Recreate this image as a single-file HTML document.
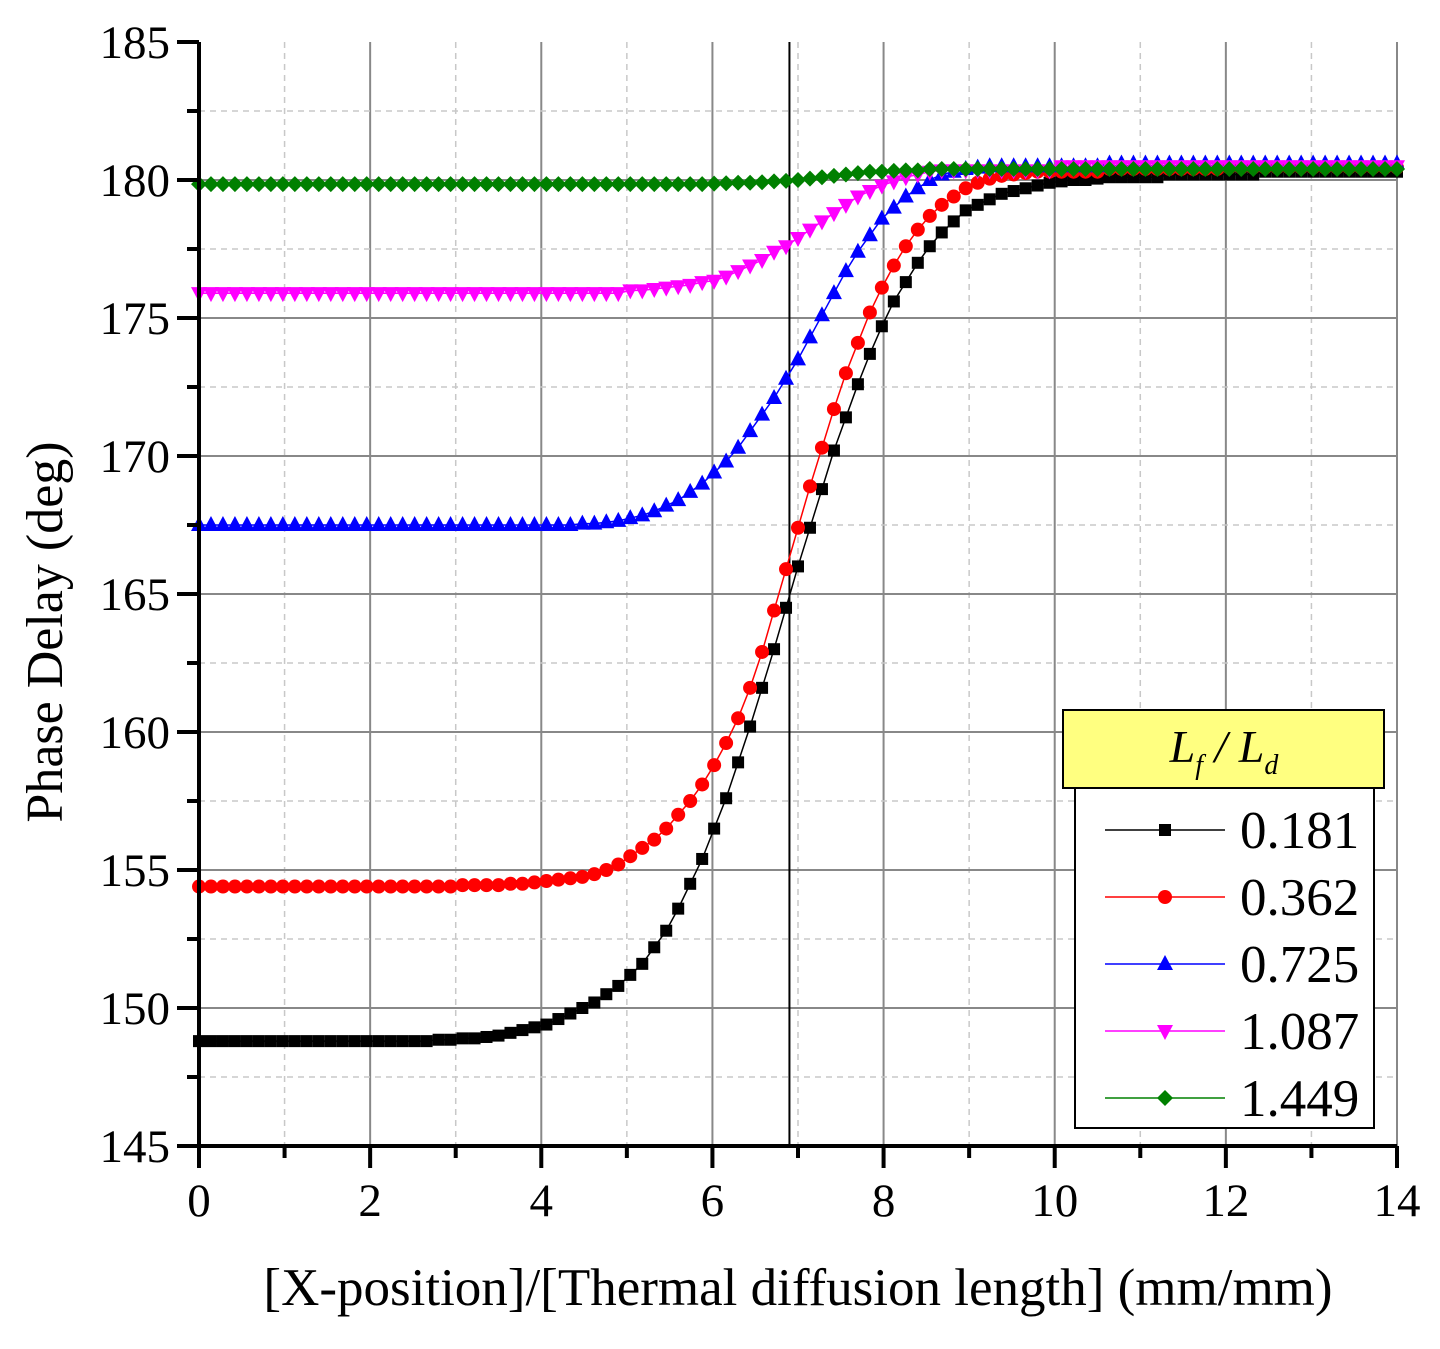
<!DOCTYPE html>
<html><head><meta charset="utf-8"><style>
html,body{margin:0;padding:0;background:#fff;}
svg{display:block;font-family:"Liberation Serif",serif;}
</style></head><body>
<svg id="chart" width="1440" height="1349" viewBox="0 0 1440 1349" xmlns="http://www.w3.org/2000/svg">
<g id="grid"></g>
<g id="series"></g>
<g id="axes"></g>
<text transform="translate(62,632) rotate(-90)" text-anchor="middle" font-size="52">Phase Delay (deg)</text>
<text x="798" y="1305" text-anchor="middle" font-size="53">[X-position]/[Thermal diffusion length] (mm/mm)</text>
<g id="legend"></g>
</svg>
<script>
const labels = ["0.181","0.362","0.725","1.087","1.449"];
const colors = ["#000000","#ff0000","#0000ff","#ff00ff","#008000"];
const markers = ["square","circle","triangle","down","diamond"];
const xTicks = [0,2,4,6,8,10,12,14];
const yTicks = [145,150,155,160,165,170,175,180,185];
const markerX = 6.9;
const s0181 = [148.8,148.8,148.8,148.8,148.8,148.8,148.8,148.8,148.8,148.8,148.8,148.8,148.8,148.8,148.8,148.8,148.8,148.8,
148.8,148.8,148.85,148.85,148.9,148.9,148.95,
149.0,149.1,149.2,149.3,149.4,149.6,149.8,150.0,150.2,150.5,150.8,151.2,151.6,152.2,152.8,153.6,154.5,155.4,156.5,157.6,158.9,160.2,161.6,163.0,164.5,166.0,167.4,168.8,170.2,171.4,172.6,173.7,174.7,175.6,176.3,177.0,177.6,178.1,178.5,178.9,179.1,179.3,179.5,179.6,179.7,179.8,179.9,
179.95,180.0,180.0,180.05,180.1,180.1,180.1,180.1,180.1,
180.2,180.2,180.2,180.2,180.2,180.2,180.2,180.2,
180.3,180.3,180.3,180.3,180.3,180.3,180.3,180.3,180.3,180.3,180.3,180.3];
const s0362 = [154.4,154.4,154.4,154.4,154.4,154.4,154.4,154.4,154.4,154.4,154.4,154.4,154.4,154.4,154.4,154.4,154.4,154.4,154.4,154.4,154.4,154.4,
154.45,154.45,154.45,154.45,154.5,154.5,154.55,154.6,154.65,154.7,154.75,154.85,155.0,155.2,155.5,155.8,156.1,156.5,157.0,157.5,158.1,158.8,
159.6,160.5,161.6,162.9,164.4,165.9,167.4,168.9,170.3,171.7,173.0,174.1,175.2,176.1,176.9,177.6,178.2,178.7,179.1,179.4,179.7,179.9,180.05,180.15,180.2,180.25,180.3,
180.3,180.3,180.3,180.3,180.3,
180.4,180.4,180.4,180.4,180.4,180.4,180.4,180.4,180.4,180.4,
180.45,180.45,180.45,180.45,180.45,180.45,180.45,180.45,180.45,180.45,180.45,180.45,180.45,180.45,180.45];
const s0725 = [167.5,167.5,167.5,167.5,167.5,167.5,167.5,167.5,167.5,167.5,167.5,167.5,167.5,167.5,167.5,167.5,167.5,167.5,167.5,167.5,167.5,167.5,167.5,167.5,167.5,167.5,167.5,167.5,167.5,167.5,167.5,167.5,
167.55,167.55,167.6,167.65,167.75,167.85,168.0,168.2,
168.4,168.7,169.0,169.4,169.8,170.3,170.9,171.5,172.1,172.8,173.5,174.3,175.1,175.9,176.7,177.4,178.0,178.6,179.0,179.4,179.7,180.0,180.2,180.3,180.4,180.45,
180.5,180.5,180.5,180.5,180.5,180.5,180.5,180.5,180.5,180.5,
180.6,180.6,180.6,180.6,180.6,180.6,180.6,180.6,180.6,180.6,180.6,180.6,180.6,180.6,180.6,180.6,180.6,180.6,180.6,180.6,180.6,180.6,180.6,180.6,180.6];
const s1087 = [175.9,175.9,175.9,175.9,175.9,175.9,175.9,175.9,175.9,175.9,175.9,175.9,175.9,175.9,175.9,175.9,175.9,175.9,175.9,175.9,175.9,175.9,175.9,175.9,175.9,175.9,175.9,175.9,175.9,175.9,175.9,175.9,175.9,175.9,175.9,175.9,
176.0,176.0,176.05,176.1,176.15,176.2,176.3,176.35,176.5,176.7,176.9,177.1,177.4,177.6,177.9,178.2,178.5,178.8,179.1,179.4,179.6,179.8,179.95,180.1,180.2,
180.3,180.35,180.35,180.35,180.35,180.35,180.35,180.35,180.35,180.35,180.35,
180.5,180.5,180.5,180.5,180.5,180.5,180.5,180.5,180.5,180.5,180.5,180.5,180.5,180.5,180.5,180.5,180.5,180.5,180.5,180.5,180.5,180.5,180.5,180.5,180.5,180.5,180.5,180.5,180.5];
const s1449 = [179.85,179.85,179.85,179.85,179.85,179.85,179.85,179.85,179.85,179.85,179.85,179.85,179.85,179.85,179.85,179.85,179.85,179.85,179.85,179.85,179.85,179.85,179.85,179.85,179.85,179.85,179.85,179.85,179.85,179.85,179.85,179.85,179.85,179.85,179.85,179.85,179.85,179.85,179.85,179.85,179.85,179.85,179.85,
179.87,179.88,179.9,179.9,179.92,179.95,179.97,180.0,180.05,180.1,180.15,180.2,180.25,180.3,180.3,180.33,180.35,180.35,
180.4,180.4,180.4,180.4,180.4,180.4,180.4,180.4,180.4,180.4,180.4,180.4,180.4,180.4,180.4,180.4,180.4,180.4,180.4,180.4,
180.4,180.4,180.4,180.4,180.4,180.4,180.4,180.4,180.4,180.4,180.4,180.4,180.4,180.4,180.4,180.4,180.4,180.4,180.4,180.4];
const seriesData = [s0181,s0362,s0725,s1087,s1449];
const xStep = 0.14;

const NS = "http://www.w3.org/2000/svg";
const L = 199, R = 1397, T = 42, B = 1146;
const xMin = 0, xMax = 14, yMin = 145, yMax = 185;
function X(v){ return L + (v - xMin) / (xMax - xMin) * (R - L); }
function Y(v){ return B - (v - yMin) / (yMax - yMin) * (B - T); }
function mk(tag, attrs, parent){
  const e = document.createElementNS(NS, tag);
  for (const k in attrs) e.setAttribute(k, attrs[k]);
  parent.appendChild(e);
  return e;
}
const grid = document.getElementById('grid');
const axes = document.getElementById('axes');
const ser = document.getElementById('series');
const leg = document.getElementById('legend');

for (let v = xMin + 1; v < xMax; v += 1) {
  const major = (v % 2 === 0);
  const g = mk('line', {x1:X(v), x2:X(v), y1:T, y2:B, stroke: major ? '#888' : '#c8c8c8', 'stroke-width': major ? 2 : 1.5, 'stroke-dasharray': major ? 'none' : '6,5'}, grid);
  
  
}
{
  const g = mk('line', {x1:X(xMax), x2:X(xMax), y1:T, y2:B, stroke:'#888', 'stroke-width':2}, grid);
  
  
}
for (let v = yMin + 2.5; v < yMax; v += 2.5) {
  const major = (v % 5 === 0);
  const g = mk('line', {x1:L, x2:R, y1:Y(v), y2:Y(v), stroke: major ? '#888' : '#c8c8c8', 'stroke-width': major ? 2 : 1.5, 'stroke-dasharray': major ? 'none' : '6,5'}, grid);
  
  
}

{
  const vl = mk('line', {x1:X(markerX), x2:X(markerX), y1:T, y2:B, stroke:'#000', 'stroke-width':2}, ser);
  
  
}

function drawMarker(type, cx, cy, color, parent){
  let e;
  if (type === 'square') e = mk('rect', {x:cx-6, y:cy-6, width:12, height:12, fill:color}, parent);
  else if (type === 'circle') e = mk('circle', {cx:cx, cy:cy, r:7, fill:color}, parent);
  else if (type === 'triangle') e = mk('polygon', {points:`${cx},${cy-9} ${cx-8},${cy+6} ${cx+8},${cy+6}`, fill:color}, parent);
  else if (type === 'down') e = mk('polygon', {points:`${cx},${cy+9} ${cx-8},${cy-6} ${cx+8},${cy-6}`, fill:color}, parent);
  else e = mk('polygon', {points:`${cx},${cy-8} ${cx+8},${cy} ${cx},${cy+8} ${cx-8},${cy}`, fill:color}, parent);
  return e;
}

seriesData.forEach((data, si) => {
  const g = mk('g', {}, ser);
  
  
  const pts = data.map((v, i) => X(i * xStep).toFixed(1) + ',' + Y(v).toFixed(1)).join(' ');
  const pl = mk('polyline', {points:pts, fill:'none', stroke:colors[si], 'stroke-width':1.5}, g);
  
  
  data.forEach((v, i) => {
    const m = drawMarker(markers[si], X(i * xStep), Y(v), colors[si], g);
    
    
  });
});

{
  const a1 = mk('line', {x1:L, x2:L, y1:T, y2:B+2, stroke:'#000', 'stroke-width':4}, axes);
  
  
  const a2 = mk('line', {x1:L-2, x2:R, y1:B, y2:B, stroke:'#000', 'stroke-width':4}, axes);
  
  
}
for (let v = xMin; v <= xMax; v += 1) {
  const major = (v % 2 === 0);
  const t = mk('line', {x1:X(v), x2:X(v), y1:B, y2:B + (major ? 22 : 12), stroke:'#000', 'stroke-width':4}, axes);
  
  
}
xTicks.forEach(v => {
  const t = mk('text', {x:X(v), y:1216, 'text-anchor':'middle', 'font-size':47}, axes);
  t.textContent = String(v);
  
  
});
for (let v = yMin; v <= yMax; v += 2.5) {
  const major = (v % 5 === 0);
  const t = mk('line', {x1:L - (major ? 22 : 12), x2:L, y1:Y(v), y2:Y(v), stroke:'#000', 'stroke-width':4}, axes);
  
  
}
yTicks.forEach(v => {
  const t = mk('text', {x:170, y:Y(v) + 16, 'text-anchor':'end', 'font-size':47}, axes);
  t.textContent = String(v);
  
  
});

{
  const tb = mk('rect', {x:1063, y:710, width:321, height:78, fill:'#ffff80', stroke:'#000', 'stroke-width':2}, leg);
  
  
  const tt = mk('text', {x:1224, y:762, 'text-anchor':'middle', 'font-size':46, 'font-style':'italic'}, leg);
  tt.innerHTML = 'L<tspan font-size="28" dy="12">f</tspan><tspan dy="-12"> / L</tspan><tspan font-size="28" dy="12">d</tspan>';
  
  
  const bb = mk('rect', {x:1075, y:788, width:299, height:340, fill:'#fff', stroke:'#000', 'stroke-width':2}, leg);
  
  
  labels.forEach((lab, i) => {
    const y = 830 + i * 67;
    const g = mk('g', {}, leg);
    
    
    mk('line', {x1:1105, x2:1225, y1:y, y2:y, stroke:colors[i], 'stroke-width':1.5}, g);
    drawMarker(markers[i], 1165, y, colors[i], g);
    const t = mk('text', {x:1240, y:y + 18, 'font-size':53}, g);
    t.textContent = lab;
  });
}
</script>
</body></html>
